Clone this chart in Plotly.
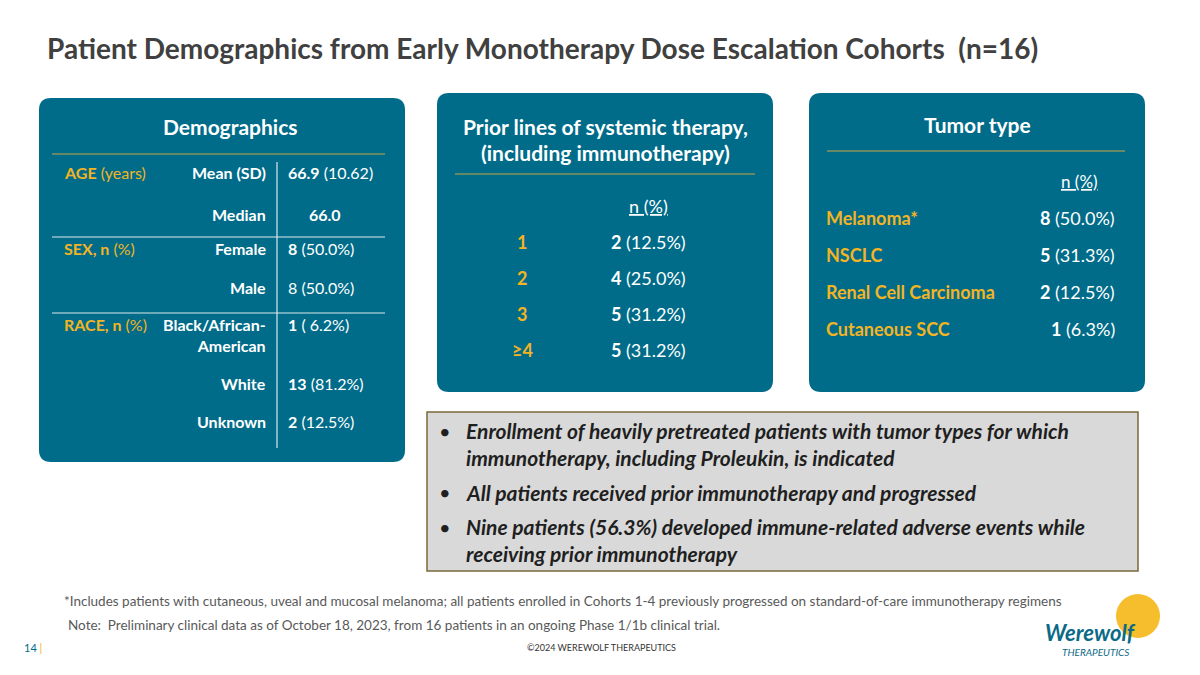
import plotly.graph_objects as go

TITLE = "Patient Demographics from Early Monotherapy Dose Escalation Cohorts  (n=16)"
demo_groups = ["<b>AGE</b> (years)", "<b>SEX, n</b> (%)", "<b>RACE, n</b> (%)"]
demo_labels = ["Mean (SD)", "Median", "Female", "Male", "Black/African-<br>American", "White", "Unknown"]
demo_values = ["<b>66.9</b> (10.62)", "<b>66.0</b>", "<b>8</b> (50.0%)", "8 (50.0%)", "<b>1</b> ( 6.2%)", "<b>13</b> (81.2%)", "<b>2</b> (12.5%)"]
prior_lines = ["1", "2", "3", "≥4"]
prior_values = ["<b>2</b> (12.5%)", "<b>4</b> (25.0%)", "<b>5</b> (31.2%)", "<b>5</b> (31.2%)"]
tumor_types = ["Melanoma*", "NSCLC", "Renal Cell Carcinoma", "Cutaneous SCC"]
tumor_values = ["<b>8</b> (50.0%)", "<b>5</b> (31.3%)", "<b>2</b> (12.5%)", "<b>1</b> (6.3%)"]
bullets = [
    "Enrollment of heavily pretreated patients with tumor types for which<br>immunotherapy, including Proleukin, is indicated",
    "All patients received prior immunotherapy and progressed",
    "Nine patients (56.3%) developed immune-related adverse events while<br>receiving prior immunotherapy",
]

TEAL = "#006C89"
GOLD = "#F2B425"
FONT = "Lato"

fig = go.Figure()
shapes, ann = [], []

def rrect(x0, y0, x1, y1, r=12, color=TEAL):
    p = (f"M{x0+r},{y0} L{x1-r},{y0} Q{x1},{y0} {x1},{y0+r} L{x1},{y1-r} Q{x1},{y1} {x1-r},{y1} "
         f"L{x0+r},{y1} Q{x0},{y1} {x0},{y1-r} L{x0},{y0+r} Q{x0},{y0} {x0+r},{y0} Z")
    shapes.append(dict(type="path", path=p, fillcolor=color, line=dict(width=0), xref="x", yref="y", layer="below"))

def line(x0, y0, x1, y1, color, w=1.2):
    shapes.append(dict(type="line", x0=x0, y0=y0, x1=x1, y1=y1, line=dict(color=color, width=w), xref="x", yref="y"))

def text(x, y, s, size=16, color="white", xanchor="left", bold=False, italic=False):
    if bold: s = f"<b>{s}</b>"
    if italic: s = f"<i>{s}</i>"
    ann.append(dict(x=x, y=y, text=s, showarrow=False, xanchor=xanchor, yanchor="middle", xref="x", yref="y",
                    font=dict(family=FONT, size=size, color=color), align="center" if xanchor == "center" else xanchor))

# title
text(45, 48, TITLE, size=28, color="#404040", bold=True)

# Demographics panel
rrect(39, 98, 405, 462)
text(230, 126, "Demographics", size=21, bold=True, xanchor="center")
line(52, 154, 385, 154, "#C8A640")
line(277, 162, 277, 448, "#DDE8EE")
line(52, 237, 385, 237, "#DDE8EE")
line(52, 313, 385, 313, "#DDE8EE")
ys = [172, 214, 248, 287, 324, 383, 421]
gy = [172, 248, 324]
for g, y in zip(demo_groups, gy):
    text(62, y, g, size=16, color=GOLD)
for i, (l, v, y) in enumerate(zip(demo_labels, demo_values, ys)):
    text(268, y + (11 if i == 4 else 0), l, size=16, xanchor="right", bold=True)
    text(325 if i == 1 else 286, y, v, size=16, xanchor="center" if i == 1 else "left")

# Prior lines panel
rrect(437, 93, 773, 392)
text(605, 126, "Prior lines of systemic therapy,", size=21, bold=True, xanchor="center")
text(605, 152, "(including immunotherapy)", size=21, bold=True, xanchor="center")
line(455, 174, 755, 174, "#C8A640")
text(648, 206, "<u>n (%)</u>", size=18, xanchor="center")
for i, (p, v) in enumerate(zip(prior_lines, prior_values)):
    y = 242 + i * 36
    text(522, y, p, size=18, color=GOLD, xanchor="center", bold=True)
    text(609, y, v, size=18)

# Tumor panel
rrect(809, 93, 1145, 392)
text(977, 124, "Tumor type", size=21, bold=True, xanchor="center")
line(827, 151, 1125, 151, "#C8A640")
text(1100, 181, "<u>n (%)</u>", size=17, xanchor="right")
for i, (t, v) in enumerate(zip(tumor_types, tumor_values)):
    y = 218 + i * 37
    text(824, y, t, size=18, color=GOLD, bold=True)
    text(1117, y, v, size=18, xanchor="right")

# bullet box
shapes.append(dict(type="rect", x0=427, y0=412, x1=1138, y1=571, fillcolor="#D9D9D9",
                   line=dict(color="#7A6A3A", width=1.5), xref="x", yref="y", layer="below"))
by = [444, 492, 540]
for b, y in zip(bullets, by):
    text(437, y - (13 if "<br>" in b else 0), "•", size=20, color="#1F1F1F")
    ann.append(dict(x=464, y=y, text=f"<b><i>{b}</i></b>", showarrow=False, xanchor="left", yanchor="middle",
                    xref="x", yref="y", align="left", font=dict(family=FONT, size=21, color="#1F1F1F")))

# footnotes
text(62, 601, "*Includes patients with cutaneous, uveal and mucosal melanoma; all patients enrolled in Cohorts 1-4 previously progressed on standard-of-care immunotherapy regimens", size=13.5, color="#595959")
text(66, 625, "Note:  Preliminary clinical data as of October 18, 2023, from 16 patients in an ongoing Phase 1/1b clinical trial.", size=13.5, color="#595959")
text(22, 647, "14 <span style='color:#F2B425'>|</span>", size=11, color=TEAL)
text(525, 647, "©2024 WEREWOLF THERAPEUTICS", size=9, color="#333333")

# logo
shapes.append(dict(type="circle", x0=1116, y0=594, x1=1160, y1=638, fillcolor="#F6BE2C", line=dict(width=0), xref="x", yref="y", layer="below"))
text(1090, 632, "Werewolf", size=22, color="#0B6A87", xanchor="center", bold=True, italic=True)
text(1095, 652, "THERAPEUTICS", size=10, color="#0B6A87", xanchor="center", italic=True)

# compensate for 8px page margin
fig.update_layout(width=1200, height=675, margin=dict(l=0, r=0, t=0, b=0),
                  plot_bgcolor="white", paper_bgcolor="white", shapes=shapes, annotations=ann,
                  xaxis=dict(range=[8, 1208], visible=False, fixedrange=True),
                  yaxis=dict(range=[683, 8], visible=False, fixedrange=True), showlegend=False)
fig.write_html("out.html")
